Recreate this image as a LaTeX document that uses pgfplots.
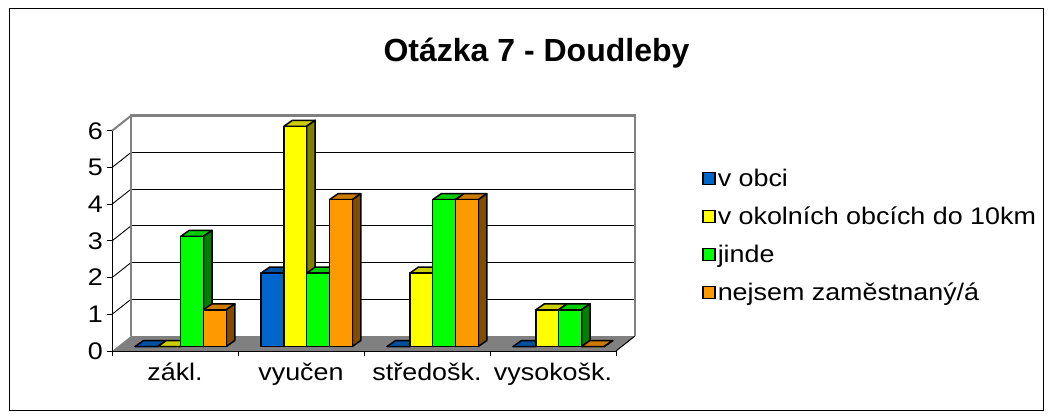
\documentclass[border=0pt]{standalone}
\usepackage{pgfplots}
\usepackage{pgfplotstable}
\pgfplotsset{compat=1.18}
\usepackage{fontspec}
\setmainfont{Liberation Sans}
\newfontfamily\labfont[FakeStretch=1.12]{Liberation Sans}
\definecolor{cBlue}{HTML}{0066CC}
\definecolor{cBlueTop}{HTML}{0050A0}
\definecolor{cBlueSide}{HTML}{003366}
\definecolor{cYel}{HTML}{FFFF00}
\definecolor{cYelTop}{HTML}{CCCC00}
\definecolor{cYelSide}{HTML}{808000}
\definecolor{cGrn}{HTML}{00FF00}
\definecolor{cGrnTop}{HTML}{00CC00}
\definecolor{cGrnSide}{HTML}{008000}
\definecolor{cOra}{HTML}{FF9900}
\definecolor{cOraTop}{HTML}{CC7A00}
\definecolor{cOraSide}{HTML}{804C00}
\definecolor{wallgray}{HTML}{808080}

\pgfplotstableread{
x a b c d
0 0 0 3 1
1 2 6 2 4
2 0 2 4 4
3 0 1 1 0
}\datatab

\pgfdeclareplotmark{nothing}{}
\pgfplotsset{
  bar3d/.style n args={4}{
    only marks, mark=nothing, scatter, point meta=y,
    scatter/@pre marker code/.code={%
      \pgfmathfloattofixed{\pgfplotspointmeta}\let\barval=\pgfmathresult
      \pgfkeys{/pgf/fpu=false}%
      \pgfmathsetmacro\bh{\barval*36.7}%
      \pgfmathsetmacro\xl{#1-11.4}%
      \pgfmathsetmacro\xr{#1+11.4}%
      \begin{scope}[line width=1.5pt, line join=round, draw=black]
        \filldraw[fill=#3] (\xl pt,4.5pt) -- ++(8.5pt,6pt) -- ++(22.8pt,0pt) -- ++(-8.5pt,-6pt) -- cycle;
        \filldraw[fill=#4] (\xr pt,4.5pt) -- ++(8.5pt,6pt) -- ++(0pt,-\bh pt) -- ++(-8.5pt,-6pt) -- cycle;
        \filldraw[fill=#2] (\xl pt,4.5pt) rectangle ++(22.8pt,-\bh pt);
      \end{scope}
    },
    scatter/@post marker code/.code={},
    legend image code/.code={\draw[fill=#2, line width=1.4pt] (0pt,-6pt) rectangle (12pt,6pt);},
  }
}

\begin{document}
\begin{tikzpicture}[x=1pt,y=-1pt]
\path[use as bounding box] (0,0) rectangle (1053,417);
\draw[black, line width=1pt] (9,9) rectangle (1043,410);
\node[font=\bfseries\fontsize{32}{32}\selectfont, anchor=base] at (536.5,61.7) {Otázka 7 - Doudleby};
\begin{axis}[
  at={(112pt,-351pt)}, anchor=south west,
  x=126pt, y=36.7pt,
  xmin=-0.5, xmax=3.5, ymin=0, ymax=6,
  clip=false,
  axis on top,
  axis lines*=left,
  axis line style={black, line width=1pt},
  xtick={0,1,2,3},
  xticklabels={zákl., vyučen, středošk., vysokošk.},
  major x tick style={draw=none},
  minor xtick={-0.5,0.5,1.5,2.5,3.5},
  ytick={0,1,2,3,4,5,6},
  tick align=outside,
  major tick length=5pt, minor tick length=5pt,
  tick style={black, line width=1pt},
  /pgf/number format/assume math mode=true,
  ticklabel style={font=\labfont\fontsize{24}{24}\selectfont},
  yticklabel style={inner sep=0pt, anchor=east, xshift=-4pt},
  xticklabel style={inner sep=0pt, anchor=base, yshift=-24pt},
  legend style={at={(axis description cs:1.165,0.525)}, anchor=west, draw=none, fill=none,
    font=\labfont\fontsize{24}{24}\selectfont, row sep=15pt},
  legend cell align=left,
]
% back wall grid lines
\pgfplotsinvokeforeach{1,2,3,4,5}{
  \draw[black, line width=0.9pt] ([shift={(19pt,15pt)}]axis cs:-0.5,#1) -- ([shift={(19pt,15pt)}]axis cs:3.5,#1);
  \draw[black, line width=0.9pt] (axis cs:-0.5,#1) -- ([shift={(19pt,15pt)}]axis cs:-0.5,#1);
}
% floor
\fill[wallgray] (axis cs:-0.5,0) -- (axis cs:3.5,0) -- ([shift={(19pt,15pt)}]axis cs:3.5,0) -- ([shift={(19pt,15pt)}]axis cs:-0.5,0) -- cycle;
\draw[black, line width=1pt] (axis cs:3.5,0) -- ([shift={(19pt,15pt)}]axis cs:3.5,0);
% wall edges
\draw[wallgray, line width=2.6pt] ([shift={(19pt,15pt)}]axis cs:-0.5,0) -- ([shift={(19pt,15pt)}]axis cs:-0.5,6) -- ([shift={(19pt,15pt)}]axis cs:3.5,6) -- ([shift={(19pt,15pt)}]axis cs:3.5,0);
\draw[wallgray, line width=2pt] (axis cs:-0.5,6) -- ([shift={(19pt,15pt)}]axis cs:-0.5,6);

\addplot[bar3d={-28.5}{cBlue}{cBlueTop}{cBlueSide}] table[x=x, y=a] {\datatab};
\addlegendentry{v obci}
\addplot[bar3d={-5.7}{cYel}{cYelTop}{cYelSide}] table[x=x, y=b] {\datatab};
\addlegendentry{v okolních obcích do 10km}
\addplot[bar3d={17.1}{cGrn}{cGrnTop}{cGrnSide}] table[x=x, y=c] {\datatab};
\addlegendentry{jinde}
\addplot[bar3d={39.9}{cOra}{cOraTop}{cOraSide}] table[x=x, y=d] {\datatab};
\addlegendentry{nejsem zaměstnaný/á}
\end{axis}
\end{tikzpicture}
\end{document}
